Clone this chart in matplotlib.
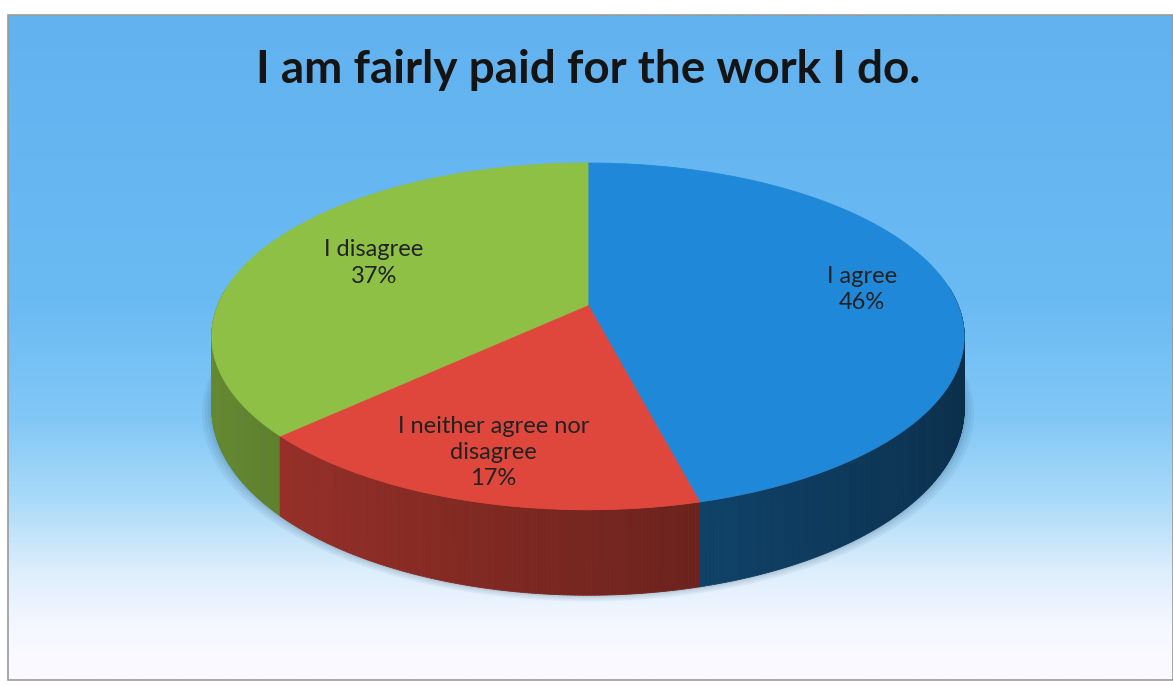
import matplotlib.pyplot as plt
import numpy as np
from matplotlib.collections import PolyCollection
from matplotlib.patches import Polygon, Rectangle

# survey answers
answers = ['I agree', 'I neither agree nor\ndisagree', 'I disagree']
shares = [46, 17, 37]
top_colors = ['#2088d8', '#e0473c', '#8dc045']
title = 'I am fairly paid for the work I do.'

W, H = 1173, 685

# pie geometry in pixel space (simple perspective projection of a disc)
CX, CY = 588, 305
A, B = 370, 167.7
K = 0.181
DEPTH = 70
label_radius = [0.76, 0.79, 0.66]


def project(u, v):
    w = 1 - K * v
    return CX + A * u / w, CY + B * v / w


def rim(theta):
    # theta in degrees, clockwise from 12 o'clock
    t = np.radians(theta)
    u, v = np.sin(t), -np.cos(t)
    x, y = project(u, v)
    return x, y, u, v


fig = plt.figure(figsize=(W / 100, H / 100), dpi=100)
fig.patch.set_facecolor('white')
ax = fig.add_axes([0, 0, 1, 1])
ax.set_xlim(0, W)
ax.set_ylim(H, 0)
ax.axis('off')

# slide background: blue fading to white
ys = np.linspace(15, 680, 400)
stops_y = [15, 300, 420, 500, 570, 630, 680]
stops_c = np.array([[98, 178, 240], [106, 186, 243], [130, 200, 246],
                    [170, 218, 249], [220, 238, 252], [246, 248, 255],
                    [252, 250, 255]]) / 255
grad = np.stack([np.interp(ys, stops_y, stops_c[:, i]) for i in range(3)], axis=-1)
ax.imshow(grad[:, None, :], extent=(8, W, 680, 15), aspect='auto', zorder=0)
ax.add_patch(Rectangle((8, 15), W - 8, 665, fill=False, edgecolor='#9a9a9a', lw=1.2, zorder=1))

# slice boundaries
bounds = np.concatenate([[0], np.cumsum(shares)]) / sum(shares) * 360

# soft shadow under the pie
th = np.linspace(0, 360, 361)
for s in [10, 7, 4, 2]:
    pts = []
    for t in th:
        x, y, u, v = rim(t)
        pts.append((x + u * s, y + DEPTH / (1 - K * v) + s * 0.6))
    ax.add_patch(Polygon(pts, closed=True, facecolor='#1a3a5a', edgecolor='none',
                         alpha=0.06, zorder=2))

# outer side, drawn as thin strips back to front
quads, cols, order = [], [], []
step = 0.5
for i in range(len(shares)):
    rgb = np.array(plt.matplotlib.colors.to_rgb(top_colors[i]))
    t = bounds[i]
    while t < bounds[i + 1] - 1e-9:
        t2 = min(t + step, bounds[i + 1])
        x1, y1, u1, v1 = rim(t)
        x2, y2, u2, v2 = rim(t2)
        if max(v1, v2) > -0.1:
            d1 = DEPTH / (1 - K * v1)
            d2 = DEPTH / (1 - K * v2)
            quads.append([(x1, y1), (x2, y2), (x2, y2 + d2), (x1, y1 + d1)])
            um = (u1 + u2) / 2
            f = 0.72 - 0.38 * (um + 1) / 2
            cols.append(tuple(rgb * f))
            order.append((v1 + v2) / 2)
        t = t2
idx = np.argsort(order)
quads = [quads[j] for j in idx]
cols = [cols[j] for j in idx]
ax.add_collection(PolyCollection(quads, facecolors=cols, edgecolors=cols,
                                 linewidths=0.6, zorder=3))

# top face wedges
for i in range(len(shares)):
    ts = np.linspace(bounds[i], bounds[i + 1], 200)
    pts = [(CX, CY)] + [rim(t)[:2] for t in ts]
    ax.add_patch(Polygon(pts, closed=True, facecolor=top_colors[i],
                         edgecolor=top_colors[i], lw=0.6, zorder=4))

# data labels
for i in range(len(shares)):
    mid = np.radians((bounds[i] + bounds[i + 1]) / 2)
    r = label_radius[i]
    lx, ly = project(r * np.sin(mid), -r * np.cos(mid))
    ax.text(lx, ly, f'{answers[i]}\n{shares[i]}%', ha='center', va='center',
            fontsize=17, family='Lato', color='#222222', linespacing=1.3, zorder=5)

ax.text(588, 70, title, ha='center', va='center', fontsize=33,
        family='Lato', weight='bold', color='#141414', zorder=5)

fig.savefig('out.png', dpi=100)
